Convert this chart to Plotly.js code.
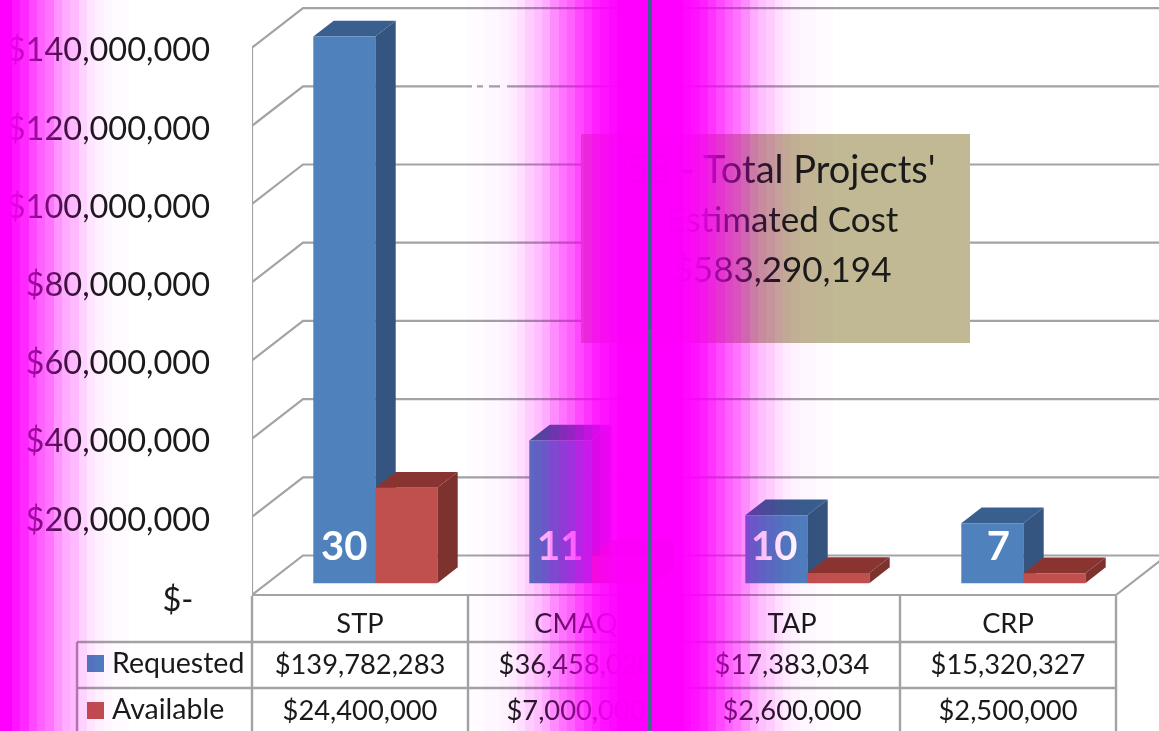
<!DOCTYPE html>
<html>
<head>
<meta charset="utf-8">
<script src="https://cdn.plot.ly/plotly-3.0.1.min.js"></script>
<style>html,body{margin:0;padding:0;background:#fff;overflow:hidden}#chart{width:1159px;height:731px}</style>
</head>
<body>
<div id="chart"></div>
<script>
// ---- data ----
const categories = ["STP", "CMAQ", "TAP", "CRP"];
const requested = [139782283, 36458020, 17383034, 15320327];
const available = [24400000, 7000000, 2600000, 2500000];
const requestedLabels = ["$139,782,283", "$36,458,020", "$17,383,034", "$15,320,327"];
const availableLabels = ["$24,400,000", "$7,000,000", "$2,600,000", "$2,500,000"];
const projectCounts = ["30", "11", "10", "7"];
const tickVals = [0, 20e6, 40e6, 60e6, 80e6, 100e6, 120e6, 140e6];
const tickLabels = ["$-\u00a0\u00a0", "$20,000,000", "$40,000,000", "$60,000,000", "$80,000,000", "$100,000,000", "$120,000,000", "$140,000,000"];
const seriesNames = ["Requested", "Available"];
const calloutLines = ["58 - Total Projects'", "Estimated Cost", "$583,290,194"];

// ---- geometry and style ----
const W = 1159, H = 731;
const plotLeft = 252, catPx = 216, dollarsPerPx = 20e6 / 78.2, y0Px = 595;
const pxX = p => p / catPx;                  // pixels to category units
const pxY = p => p * dollarsPerPx;           // pixels to dollars
const depthX = pxX(51), depthY = pxY(39.5);  // projection of full floor depth
const barW = pxX(62), barDepth = 0.4, barPlane = 0.3;
const font = "Lato, Carlito, Calibri, sans-serif";
const ink = "#1a1a1a", gridC = "#a3a3a3";
const BLUE = {front: "#4f81bd", side: "#34557f", top: "#395f8f"};
const RED = {front: "#c0504d", side: "#7e322e", top: "#8a3431"};

const traces = [];

// wall and floor lines
const gx = [], gy = [];
const backRight = -0.5 + (W + 20 - plotLeft) / catPx;
tickVals.forEach(v => {
  gx.push(-0.5, -0.5 + depthX, backRight, null);
  gy.push(v, v + depthY, v + depthY, null);
});
gx.push(-0.5, -0.5, null, -0.5, 3.5, 3.5 + depthX);
gy.push(0, tickVals[tickVals.length - 1], null, 0, 0, depthY);
traces.push({type: "scatter", mode: "lines", x: gx, y: gy, cliponaxis: false, hoverinfo: "skip",
  line: {color: gridC, width: 2.2}, zorder: 0});

// 3D bars: front faces are bars, side and top faces are projected polygons
const planeX = barPlane * depthX, planeY = barPlane * depthY;
function addSeries(values, col, side, z) {
  const cx = categories.map((c, i) => i + planeX + (side - 0.5) * barW);
  const px = [], py = [];
  values.forEach((v, i) => {
    const x1 = cx[i] + barW / 2, t = planeY + v, b = planeY;
    const dx = barDepth * depthX, dy = barDepth * depthY;
    px.push(x1, x1 + dx, x1 + dx, x1, x1, null);
    py.push(b, b + dy, t + dy, t, b, null);
  });
  traces.push({type: "scatter", mode: "none", x: px, y: py, fill: "toself", fillcolor: col.side,
    hoverinfo: "skip", zorder: z});
  const tx = [], ty = [];
  values.forEach((v, i) => {
    const x0 = cx[i] - barW / 2, x1 = cx[i] + barW / 2, t = planeY + v;
    const dx = barDepth * depthX, dy = barDepth * depthY;
    tx.push(x0, x1, x1 + dx, x0 + dx, x0, null);
    ty.push(t, t, t + dy, t + dy, t, null);
  });
  traces.push({type: "scatter", mode: "none", x: tx, y: ty, fill: "toself", fillcolor: col.top,
    hoverinfo: "skip", zorder: z});
  traces.push({type: "bar", x: cx, y: values, base: values.map(() => planeY), width: barW,
    marker: {color: col.front, line: {width: 0}}, hoverinfo: "skip", zorder: z + 1});
}
addSeries(requested, BLUE, 0, 1);
addSeries(available, RED, 1, 3);

// project counts on the blue bars
const countNudge = [0, 0, -2, 6];
traces.push({type: "scatter", mode: "text",
  x: categories.map((c, i) => i + planeX - barW / 2 + pxX(countNudge[i])),
  y: categories.map(() => planeY + pxY(33)),
  text: projectCounts, textposition: "middle center",
  textfont: {family: font, size: 40, color: "#ffffff", weight: 700},
  cliponaxis: false, hoverinfo: "skip", zorder: 6});

// ---- second, pixel-sized axes for callout and data table ----
const pix = {xaxis: "x2", yaxis: "y2", hoverinfo: "skip", cliponaxis: false};
const bx0 = 581, bx1 = 970, by0 = 134, by1 = 343;
traces.push(Object.assign({type: "scatter", mode: "none",
  x: [bx0, bx1, bx1, bx0, bx0], y: [by0, by0, by1, by1, by0], fill: "toself", fillcolor: "#c1b994"}, pix));
traces.push(Object.assign({type: "scatter", mode: "text",
  x: [781, 782, 782], y: [173, 223, 273], text: calloutLines, textposition: "middle center",
  textfont: {family: font, size: [38, 35, 35], color: ink}}, pix));

// table grid
const colX = [252, 468, 684, 900, 1116], legX = 77;
const lx = [plotLeft, plotLeft, null, legX, legX, null], ly = [596, H + 5, null, 642, H + 5, null];
colX.slice(1).forEach(x => { lx.push(x, x, null); ly.push(596, H + 5, null); });
lx.push(legX, 1116, null, legX, 1116, null);
ly.push(642, 642, null, 688, 688, null);
traces.push(Object.assign({type: "scatter", mode: "lines", x: lx, y: ly, line: {color: gridC, width: 2.4}}, pix));

const colCentre = categories.map((c, i) => colX[i] + catPx / 2);
const tableFont = {family: font, size: 27.3, color: ink};
[[categories, 626], [requestedLabels, 667], [availableLabels, 713]].forEach(r => {
  traces.push(Object.assign({type: "scatter", mode: "text", x: colCentre, y: categories.map(() => r[1]),
    text: r[0], textposition: "middle center", textfont: tableFont}, pix));
});
traces.push(Object.assign({type: "scatter", mode: "markers", x: [95.5, 95.5], y: [663.5, 710.5],
  marker: {symbol: "square", size: 17, color: [BLUE.front, RED.front], line: {width: 0}}}, pix));
traces.push(Object.assign({type: "scatter", mode: "text", x: [112, 112], y: [666, 712],
  text: seriesNames, textposition: "middle right", textfont: {family: font, size: 28.5, color: ink}}, pix));

// ---- magenta stepped bands ----
const shapes = [];
// small break in the $120M grid line
[[472, 477], [483, 489], [500, 507]].forEach(s => {
  shapes.push({type: "rect", layer: "above", xref: "x2", yref: "y2", x0: s[0], x1: s[1], y0: 82, y1: 90,
    fillcolor: "#ffffff", line: {width: 0}});
});
const leftAlpha = [.92, .84, .72, .62, .55, .42, .33, .27, .17, .1, .06, .03, .015, .015];
const centreAlpha = [.97, .93, .88, .8, .72, .62, .55, .45, .33, .25, .2, .13, .08, .05, .03, .03, .015, .015];
const bandStep = 8.33, coreHalf = 33;
const veilShapes = [], tintShapes = [];
function band(x0, x1, a) {
  const t = a >= 1 ? 0.97 : Math.pow(a, 1.6);
  const m = Math.round(255 * (1 - a) / (1 - t));
  const base = {type: "rect", layer: "above", xref: "x2", yref: "paper",
    x0: Math.round(x0), x1: Math.round(x1), y0: 0, y1: 1, line: {width: 0}};
  veilShapes.push(Object.assign({fillcolor: "rgba(255,0,255," + t.toFixed(3) + ")"}, base));
  tintShapes.push(Object.assign({fillcolor: "rgb(255," + m + ",255)"}, base));
}
// left-hand glow
band(0, 12, 1);
leftAlpha.forEach((a, k) => band(12 + k * bandStep, 12 + (k + 1) * bandStep, a));
// centre glow
const mid = 650;
band(mid - coreHalf, mid + coreHalf, 1);
centreAlpha.forEach((a, k) => {
  band(mid + coreHalf + k * bandStep, mid + coreHalf + (k + 1) * bandStep, a);
  band(mid - coreHalf - (k + 1) * bandStep, mid - coreHalf - k * bandStep, a);
});
const tintStart = shapes.length + veilShapes.length;
shapes.push(...veilShapes, ...tintShapes);
const tintEnd = shapes.length;
// centre rule
[["#3f6190", 1, 0.55], ["#3f6c88", 0.55, 0]].forEach(s => {
  shapes.push({type: "rect", layer: "above", xref: "x2", yref: "paper", x0: 648, x1: 652, y0: s[2], y1: s[1],
    fillcolor: s[0], line: {width: 0}});
});

const layout = {
  width: W, height: H, margin: {l: 0, r: 0, t: 0, b: 0, pad: 0},
  paper_bgcolor: "#ffffff", plot_bgcolor: "rgba(0,0,0,0)",
  showlegend: false, barmode: "overlay", shapes: shapes,
  xaxis: {domain: [plotLeft / W, 1], range: [-0.5, -0.5 + (W - plotLeft) / catPx], visible: false, fixedrange: true},
  yaxis: {range: [-(H - y0Px) * dollarsPerPx, y0Px * dollarsPerPx], tickmode: "array", tickvals: tickVals, ticktext: tickLabels,
    showgrid: false, zeroline: false, showline: false, ticks: "", ticklabelstandoff: 41,
    tickfont: {family: font, size: 32.5, color: ink}, automargin: false, fixedrange: true},
  xaxis2: {domain: [0, 1], range: [0, W], visible: false, anchor: "y2", fixedrange: true},
  yaxis2: {domain: [0, 1], range: [H, 0], visible: false, anchor: "x2", fixedrange: true}
};
Plotly.newPlot("chart", traces, layout, {displayModeBar: false, staticPlot: true}).then(gd => {
  // the tint half of each band multiplies, so text stays readable through it as in the reference.
  // Each shape sits in its own clipped group, so the blend goes on that group.
  gd.querySelectorAll(".shapelayer path").forEach(p => {
    const i = +p.getAttribute("data-index");
    if (i >= tintStart && i < tintEnd) p.parentNode.style.mixBlendMode = "multiply";
  });
  gd.querySelectorAll(".ytick text").forEach(t => {
    t.setAttribute("dy", t.textContent.length < 6 ? "5" : "2.5");
  });
});
</script>
</body>
</html>
